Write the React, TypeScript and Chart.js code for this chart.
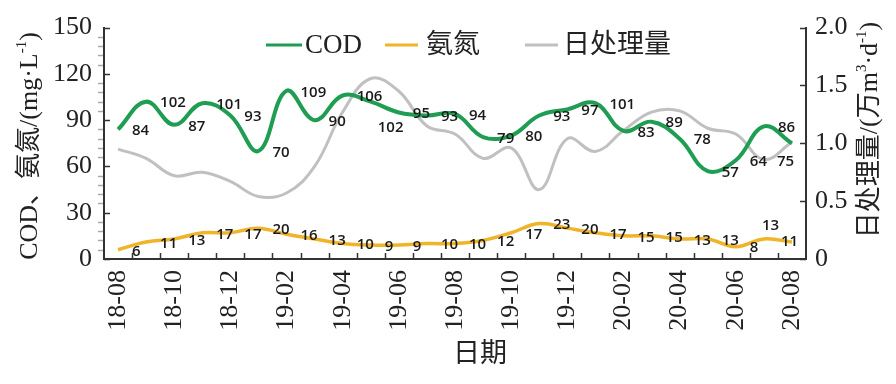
import React, { useEffect, useRef } from "react";
import { Chart, registerables } from "chart.js";

Chart.register(...registerables);

const months = [
  "18-08", "18-09", "18-10", "18-11", "18-12", "19-01", "19-02", "19-03", "19-04",
  "19-05", "19-06", "19-07", "19-08", "19-09", "19-10", "19-11", "19-12", "20-01",
  "20-02", "20-03", "20-04", "20-05", "20-06", "20-07", "20-08",
];
const codValues = [84, 102, 87, 101, 93, 70, 109, 90, 106, 102, 95, 93, 94, 79, 80, 93, 97, 101, 83, 89, 78, 57, 64, 86, 75];
const nh3Values = [6, 11, 13, 17, 17, 20, 16, 13, 10, 9, 9, 10, 10, 12, 17, 23, 20, 17, 15, 15, 13, 13, 8, 13, 11];
const flowValues = [0.95, 0.87, 0.72, 0.75, 0.67, 0.54, 0.57, 0.8, 1.27, 1.56, 1.45, 1.15, 1.08, 0.87, 0.96, 0.6, 1.04, 0.93, 1.11, 1.27, 1.28, 1.13, 1.08, 0.86, 1.01];
const leftTicks = { min: 0, max: 150, step: 30, minor: 6 };
const rightTicks = { min: 0, max: 2, step: 0.5 };

const SERIF = '"Liberation Serif", "Times New Roman", "Noto Sans CJK SC", serif';
const GREEN = "#1f9d52";
const GOLD = "#f0b429";
const GRAY = "#c0c0c0";
const INK = "#222222";

type Seg = { t: string; sup?: boolean };

function drawRich(ctx: CanvasRenderingContext2D, segs: Seg[], cx: number, cy: number, size: number) {
  const supSize = Math.round(size * 0.58);
  let total = 0;
  const widths = segs.map((s) => {
    ctx.font = `${s.sup ? supSize : size}px ${SERIF}`;
    const w = ctx.measureText(s.t).width;
    total += w;
    return w;
  });
  let x = cx - total / 2;
  ctx.textAlign = "left";
  ctx.textBaseline = "middle";
  segs.forEach((s, i) => {
    ctx.font = `${s.sup ? supSize : size}px ${SERIF}`;
    ctx.fillText(s.t, x, s.sup ? cy - size * 0.32 : cy);
    x += widths[i];
  });
}

const decorPlugin = {
  id: "decor",
  afterDatasetsDraw(chart: any) {
    const ctx: CanvasRenderingContext2D = chart.ctx;
    ctx.save();
    ctx.font = `600 15px "Open Sans", "DejaVu Sans", sans-serif`;
    ctx.fillStyle = "#1a1a1a";
    ctx.textBaseline = "middle";
    ctx.textAlign = "left";
    const codMeta = chart.getDatasetMeta(0);
    const nhMeta = chart.getDatasetMeta(1);
    codMeta.data.forEach((pt: any, i: number) => {
      let dx = 14, dy = 1.5;
      if (i === 9) { dx = 7; dy = 26; }
      if (i === 24) { dx = -15; dy = 18; }
      ctx.fillText(String(codValues[i]), pt.x + dx, pt.y + dy);
    });
    nhMeta.data.forEach((pt: any, i: number) => {
      let dx = 14, dy = 1.5;
      if (i === 23) { dx = -2; dy = -13; }
      if (i === 24) { dx = -11; dy = 0; }
      ctx.fillText(String(nh3Values[i]), pt.x + dx, pt.y + dy);
    });
    ctx.restore();
  },
  afterDraw(chart: any) {
    const ctx: CanvasRenderingContext2D = chart.ctx;
    const area = chart.chartArea;
    const yL = chart.scales.y;
    const yR = chart.scales.y1;
    ctx.save();
    ctx.lineWidth = 1.5;
    ctx.strokeStyle = "#333";
    for (let v = leftTicks.min; v <= leftTicks.max; v += leftTicks.minor) {
      const y = Math.round(yL.getPixelForValue(v)) + 0.5;
      ctx.beginPath();
      if (v % leftTicks.step === 0) {
        ctx.strokeStyle = "#333";
        ctx.moveTo(area.left, y);
        ctx.lineTo(area.left + 6, y);
      } else {
        ctx.strokeStyle = "#aaa";
        ctx.moveTo(area.left - 6, y);
        ctx.lineTo(area.left - 1, y);
      }
      ctx.stroke();
    }
    ctx.strokeStyle = "#333";
    for (let v = rightTicks.min; v <= rightTicks.max + 1e-9; v += rightTicks.step) {
      const y = Math.round(yR.getPixelForValue(v)) + 0.5;
      ctx.beginPath();
      ctx.moveTo(area.right - 6, y);
      ctx.lineTo(area.right, y);
      ctx.stroke();
    }
    const n = months.length;
    const cw = (area.right - area.left) / n;
    for (let i = 1; i < n; i++) {
      const x = Math.round(area.left + i * cw) + 0.5;
      ctx.beginPath();
      ctx.moveTo(x, area.bottom - 6);
      ctx.lineTo(x, area.bottom);
      ctx.stroke();
    }
    const ly = 45;
    const items = [
      { c: GREEN, x0: 266, x1: 302, tx: 305, t: "COD" },
      { c: GOLD, x0: 385, x1: 418, tx: 426, t: "氨氮" },
      { c: GRAY, x0: 525, x1: 558, tx: 563, t: "日处理量" },
    ];
    items.forEach((it) => {
      ctx.strokeStyle = it.c;
      ctx.lineWidth = 3;
      ctx.beginPath();
      ctx.moveTo(it.x0, ly);
      ctx.lineTo(it.x1, ly);
      ctx.stroke();
      ctx.fillStyle = INK;
      ctx.font = `27px ${SERIF}`;
      ctx.textAlign = "left";
      ctx.textBaseline = "middle";
      ctx.fillText(it.t, it.tx, ly + 1);
    });
    ctx.fillStyle = INK;
    ctx.save();
    ctx.translate(30, 146);
    ctx.rotate(-Math.PI / 2);
    drawRich(ctx, [{ t: "COD、氨氮/(mg·L" }, { t: "-1", sup: true }, { t: ")" }], 0, 0, 26);
    ctx.restore();
    ctx.save();
    ctx.translate(870, 130);
    ctx.rotate(-Math.PI / 2);
    drawRich(ctx, [{ t: "日处理量/(万m" }, { t: "3", sup: true }, { t: "·d" }, { t: "-1", sup: true }, { t: ")" }], 0, 0, 26);
    ctx.restore();
    drawRich(ctx, [{ t: "日期" }], 480, 355, 27);
    ctx.restore();
  },
};

export default function App() {
  const ref = useRef<HTMLCanvasElement | null>(null);
  useEffect(() => {
    document.body.style.margin = "0";
    const canvas = ref.current;
    if (!canvas) return;
    const tickFont = { family: SERIF, size: 26 };
    const chart = new Chart(canvas, {
      type: "line",
      data: {
        labels: months,
        datasets: [
          { label: "COD", data: codValues, borderColor: GREEN, borderWidth: 4, tension: 0.4, pointRadius: 0, yAxisID: "y" },
          { label: "氨氮", data: nh3Values, borderColor: GOLD, borderWidth: 3.5, tension: 0.4, pointRadius: 0, yAxisID: "y" },
          { label: "日处理量", data: flowValues, borderColor: GRAY, borderWidth: 3, tension: 0.4, pointRadius: 0, yAxisID: "y1" },
        ],
      },
      options: {
        animation: false,
        responsive: false,
        devicePixelRatio: 1,
        layout: { padding: { top: 24, left: 0, right: 0, bottom: 0 } },
        plugins: { legend: { display: false }, tooltip: { enabled: false } },
        scales: {
          x: {
            type: "category",
            offset: true,
            grid: { display: false, drawTicks: false },
            border: { display: true, color: "#333", width: 2 },
            ticks: {
              autoSkip: false,
              minRotation: 90,
              maxRotation: 90,
              padding: 11,
              color: INK,
              font: tickFont,
              callback: (_v: any, i: number) => (i % 2 === 0 ? months[i] : ""),
            },
            afterFit: (s: any) => { s.height = 125; },
          },
          y: {
            position: "left",
            min: leftTicks.min,
            max: leftTicks.max,
            grid: { display: false, drawTicks: false },
            border: { display: true, color: "#333", width: 2 },
            ticks: { stepSize: leftTicks.step, padding: 12, color: INK, font: tickFont },
            afterFit: (s: any) => { s.width = 104; },
          },
          y1: {
            position: "right",
            min: rightTicks.min,
            max: rightTicks.max,
            grid: { display: false, drawTicks: false },
            border: { display: true, color: "#333", width: 2 },
            ticks: {
              stepSize: rightTicks.step,
              padding: 9,
              color: INK,
              font: tickFont,
              callback: (v: any) => (Number(v) === 0 ? "0" : Number(v).toFixed(1)),
            },
            afterFit: (s: any) => { s.width = 90; },
          },
        },
      },
      plugins: [decorPlugin],
    });
    return () => chart.destroy();
  }, []);
  return (
    <div style={{ width: 896, height: 384, background: "#fff" }}>
      <canvas ref={ref} width={896} height={384} />
    </div>
  );
}
